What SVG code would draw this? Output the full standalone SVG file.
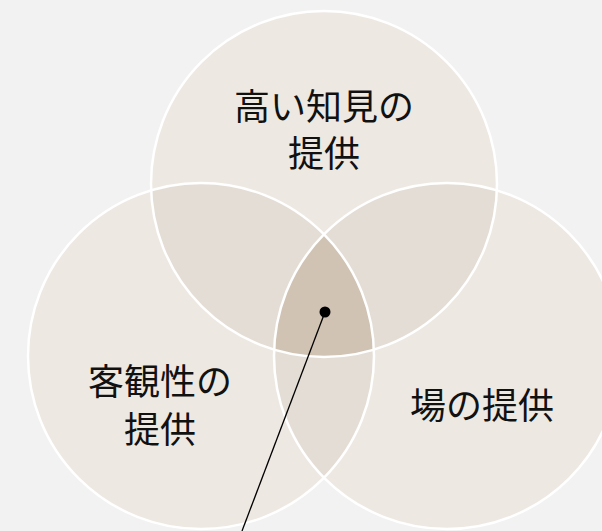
<svg xmlns="http://www.w3.org/2000/svg" width="602" height="531" viewBox="0 0 602 531">
<style>
.base{fill:#ede8e2}
.pair{fill:#e4ddd5}
.tri{fill:#d0c3b4}
.ring{fill:none;stroke:#ffffff;stroke-width:2.5}
.lbl{font-family:"Noto Sans CJK JP","Noto Sans",sans-serif;font-size:36px;fill:#111111;text-anchor:middle}
</style>
<defs>
<clipPath id="cTop"><circle cx="324" cy="184" r="173"/></clipPath>
<clipPath id="cLeft"><circle cx="201" cy="356" r="173"/></clipPath>
</defs>
<rect width="602" height="531" fill="#f2f2f2"/>
<g id="fills">
<circle class="base" cx="324" cy="184" r="173"/>
<circle class="base" cx="201" cy="356" r="173"/>
<circle class="base" cx="447" cy="356" r="173"/>
<g clip-path="url(#cTop)">
<circle class="pair" cx="201" cy="356" r="173"/>
<circle class="pair" cx="447" cy="356" r="173"/>
</g>
<g clip-path="url(#cLeft)">
<circle class="pair" cx="447" cy="356" r="173"/>
</g>
<g clip-path="url(#cTop)"><g clip-path="url(#cLeft)">
<circle class="tri" cx="447" cy="356" r="173"/>
</g></g>
</g>
<g id="node-top">
<circle class="ring" cx="324" cy="184" r="173"/>
<text class="lbl" x="324" y="120">高い知見の</text>
<text class="lbl" x="324" y="167">提供</text>
</g>
<g id="node-left">
<circle class="ring" cx="201" cy="356" r="173"/>
<text class="lbl" x="160" y="395">客観性の</text>
<text class="lbl" x="160" y="443">提供</text>
</g>
<g id="node-right">
<circle class="ring" cx="447" cy="356" r="173"/>
<text class="lbl" x="482" y="419">場の提供</text>
</g>
<g id="connectors">
<line x1="325" y1="312" x2="242" y2="531" stroke="#000000" stroke-width="1.3"/>
<circle cx="325" cy="312" r="5.5" fill="#000000"/>
</g>
</svg>
